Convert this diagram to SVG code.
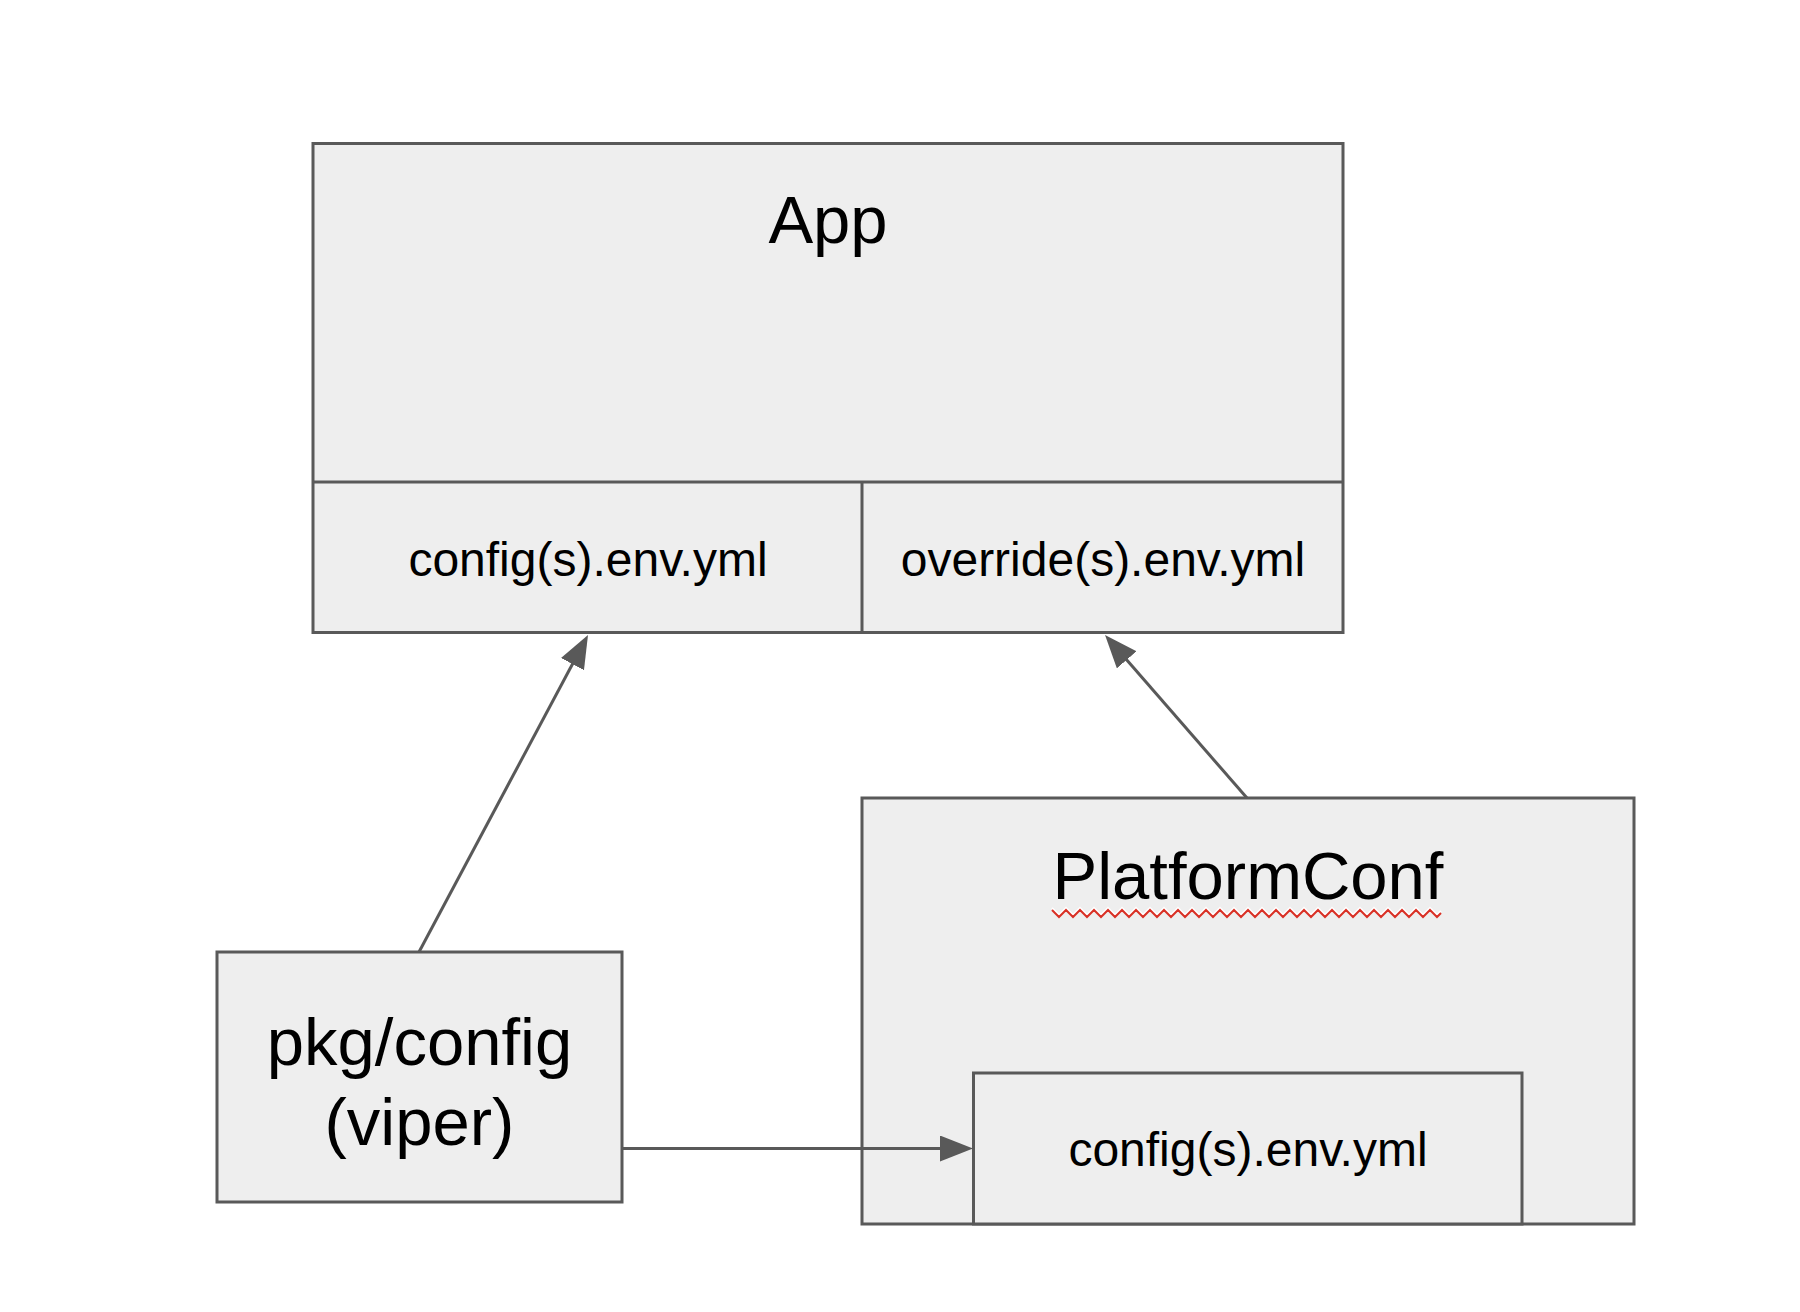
<svg xmlns="http://www.w3.org/2000/svg" width="1800" height="1312" viewBox="0 0 1800 1312">
  <style>
    .box { fill: #eeeeee; stroke: #595959; stroke-width: 3; }
    .div { stroke: #595959; stroke-width: 3; fill: none; }
    .edge { stroke: #595959; stroke-width: 3; fill: none; marker-end: url(#arrow); }
    .big { font-family: "Liberation Sans", Arial, sans-serif; font-size: 67px; fill: #000000; text-anchor: middle; }
    .small { font-family: "Liberation Sans", Arial, sans-serif; font-size: 48px; fill: #000000; text-anchor: middle; }
    .squiggle { stroke: #d93025; stroke-width: 2; fill: none; }
    .halo { stroke: #ffffff; stroke-width: 2; fill: none; }
  </style>
  <defs>
    <marker id="arrow" markerUnits="userSpaceOnUse" markerWidth="36" markerHeight="28" refX="23" refY="13" orient="auto">
      <path d="M0,0 L33,13 L0,26 z" fill="#595959"/>
    </marker>
    <polyline id="zig" points="1052,910 1059,917 1066,910 1073,917 1080,910 1087,917 1094,910 1101,917 1108,910 1115,917 1122,910 1129,917 1136,910 1143,917 1150,910 1157,917 1164,910 1171,917 1178,910 1185,917 1192,910 1199,917 1206,910 1213,917 1220,910 1227,917 1234,910 1241,917 1248,910 1255,917 1262,910 1269,917 1276,910 1283,917 1290,910 1297,917 1304,910 1311,917 1318,910 1325,917 1332,910 1339,917 1346,910 1353,917 1360,910 1367,917 1374,910 1381,917 1388,910 1395,917 1402,910 1409,917 1416,910 1423,917 1430,910 1437,917 1441,913"/>
  </defs>
  <rect x="0" y="0" width="1800" height="1312" fill="#ffffff"/>

  <g id="app">
    <rect class="box" x="313" y="143.5" width="1030" height="489"/>
    <line class="div" x1="313" y1="482" x2="1343" y2="482"/>
    <text class="big" x="828" y="243">App</text>
  </g>
  <g id="app-config">
    <line class="div" x1="862" y1="482" x2="862" y2="632.5"/>
    <text class="small" x="588" y="576">config(s).env.yml</text>
  </g>
  <g id="app-override">
    <text class="small" x="1103" y="576">override(s).env.yml</text>
  </g>

  <g id="pkg-config">
    <rect class="box" x="217" y="952" width="405" height="250"/>
    <text class="big" x="419.5" y="1065">pkg/config</text>
    <text class="big" x="419.5" y="1145">(viper)</text>
  </g>

  <g id="platformconf">
    <rect class="box" x="862" y="798" width="772" height="426"/>
    <text class="big" x="1248" y="899">PlatformConf</text>
    <use href="#zig" class="halo" transform="translate(0,-2)"/>
    <use href="#zig" class="squiggle"/>
  </g>
  <g id="platformconf-config">
    <rect class="box" x="973.5" y="1073" width="548.5" height="151"/>
    <text class="small" x="1248" y="1166">config(s).env.yml</text>
  </g>

  <g id="connectors">
    <path class="edge" d="M419,952 L583.3,643.8"/>
    <path class="edge" d="M1247,798 L1111.6,642.5"/>
    <path class="edge" d="M623,1148.5 L963,1148.5"/>
  </g>
</svg>
